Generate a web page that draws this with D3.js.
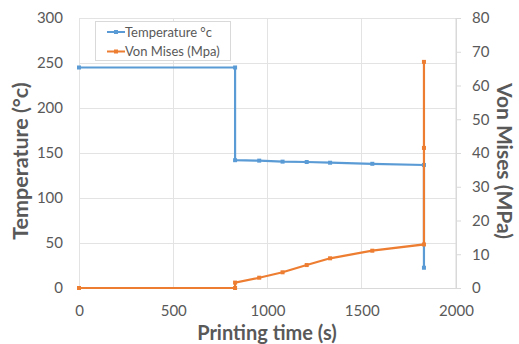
<!DOCTYPE html>
<html><head><meta charset="utf-8">
<script src="https://cdn.jsdelivr.net/npm/d3@7"></script>
<style>
body{margin:0;background:#fff;}
svg{display:block;font-family:Lato,"Open Sans",sans-serif;}
</style></head>
<body><svg id="c" width="519" height="344"></svg>
<script>
const timeTemp = [0, 828, 828, 956, 1080, 1208, 1332, 1556, 1830, 1830];
const temperature = [245, 245, 142, 141.5, 140.4, 140, 139.2, 138, 136.7, 22.5];
const timeVM = [0, 828, 828, 956, 1080, 1208, 1332, 1556, 1830, 1830, 1830];
const vonMises = [0, 0, 1.6, 3.05, 4.65, 6.8, 8.8, 11.05, 12.9, 41.5, 67];
const xTicks = [0, 500, 1000, 1500, 2000];
const leftTicks = [0, 50, 100, 150, 200, 250, 300];
const rightTicks = [0, 10, 20, 30, 40, 50, 60, 70, 80];
const seriesNames = ["Temperature °c", "Von Mises (Mpa)"];
const colors = ["#5b9bd5", "#ed7d31"];

const svg = d3.select("#c");
const L = 79, R = 456, T = 18, B = 288;
const x = d3.scaleLinear().domain([0, 2000]).range([L, R]);
const yL = d3.scaleLinear().domain([0, 300]).range([B, T]);
const yR = d3.scaleLinear().domain([0, 80]).range([B, T]);
const txt = "#595959", grid = "#e3e3e3";

// gridlines
const g = svg.append("g");
g.selectAll(".h").data(leftTicks).join("line")
  .attr("x1", L).attr("x2", R).attr("y1", d => yL(d)).attr("y2", d => yL(d))
  .attr("stroke", d => d === 0 ? "#d9d9d9" : grid).attr("stroke-width", 1).attr("shape-rendering", "crispEdges");
g.selectAll(".v").data(xTicks).join("line")
  .attr("y1", T).attr("y2", B).attr("x1", d => x(d)).attr("x2", d => x(d))
  .attr("stroke", d => d === 2000 ? "#d9d9d9" : grid).attr("stroke-width", 1).attr("shape-rendering", "crispEdges");

// axes
const axB = svg.append("g").attr("transform", `translate(0,${B})`)
  .call(d3.axisBottom(x).tickValues(xTicks).tickSize(0).tickPadding(17).tickFormat(d3.format("d")));
const axL = svg.append("g").attr("transform", `translate(${L},0)`)
  .call(d3.axisLeft(yL).tickValues(leftTicks).tickSize(0).tickPadding(16).tickFormat(d3.format("d")));
const axR = svg.append("g").attr("transform", `translate(${R},0)`)
  .call(d3.axisRight(yR).tickValues(rightTicks).tickSize(5).tickPadding(11).tickFormat(d3.format("d")));
[axB, axL, axR].forEach(a => {
  a.select(".domain").remove();
  a.selectAll("text").attr("fill", txt).style("font-size", "15px").style("font-family", "Lato");
  a.selectAll("line").attr("stroke", "#d9d9d9");
});
axR.append("line").attr("x1", 0).attr("x2", 0).attr("y1", T).attr("y2", B).attr("stroke", "#d9d9d9");

// lines
const line = d3.line().x(d => x(d[0])).y(d => d[1]);
const tempPts = timeTemp.map((t, i) => [t, yL(temperature[i])]);
const vmPts = timeVM.map((t, i) => [t, yR(vonMises[i])]);
[[tempPts, colors[0]], [vmPts, colors[1]]].forEach(([pts, c]) => {
  svg.append("path").attr("d", line(pts)).attr("fill", "none").attr("stroke", c).attr("stroke-width", 2.2);
  svg.append("g").selectAll("rect").data(pts).join("rect")
    .attr("x", d => x(d[0]) - 2).attr("y", d => d[1] - 2).attr("width", 4).attr("height", 4).attr("fill", c);
});

// legend
const lg = svg.append("g");
lg.append("rect").attr("x", 95.5).attr("y", 21.5).attr("width", 135).attr("height", 39)
  .attr("fill", "#fff").attr("stroke", "#d9d9d9");
seriesNames.forEach((n, i) => {
  const yy = 32 + i * 19.5;
  lg.append("line").attr("x1", 107).attr("x2", 125).attr("y1", yy).attr("y2", yy).attr("stroke", colors[i]).attr("stroke-width", 2);
  lg.append("rect").attr("x", 114).attr("y", yy - 2).attr("width", 4).attr("height", 4).attr("fill", colors[i]);
  lg.append("text").attr("x", 125).attr("y", yy).attr("dy", "0.35em").attr("fill", txt)
    .style("font-size", "13px").text(n);
});

// titles
svg.append("text").attr("x", 267).attr("y", 339.5).attr("text-anchor", "middle").attr("fill", txt)
  .style("font-size", "20px").style("font-weight", "bold").text("Printing time (s)");
svg.append("text").attr("transform", "translate(28,161) rotate(-90)").attr("text-anchor", "middle").attr("fill", txt)
  .style("font-size", "21.5px").style("font-weight", "bold").text("Temperature (°c)");
svg.append("text").attr("transform", "translate(497,161) rotate(90)").attr("text-anchor", "middle").attr("fill", txt)
  .style("font-size", "21px").style("font-weight", "bold").text("Von Mises (MPa)");
</script></body></html>
